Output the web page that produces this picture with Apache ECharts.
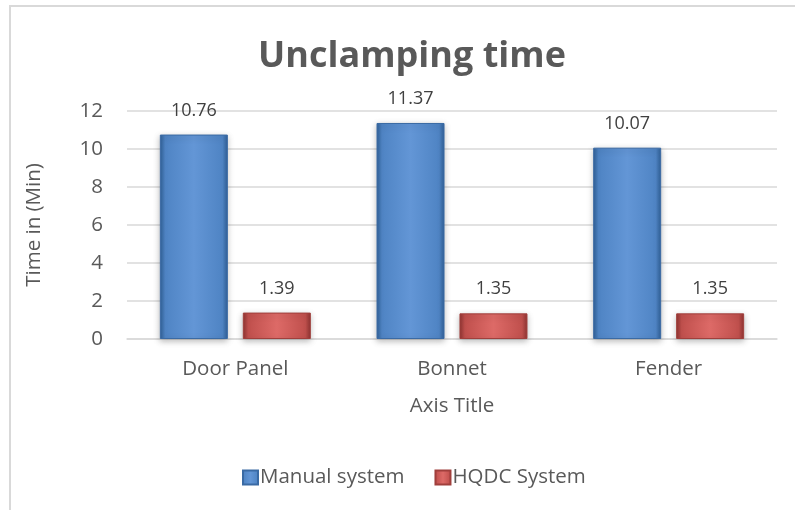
<!DOCTYPE html>
<html><head><meta charset="utf-8">
<script src="https://cdn.jsdelivr.net/npm/echarts@6/dist/echarts.min.js"></script>
<style>html,body{margin:0;padding:0;background:#fff}#c{width:795px;height:510px}</style>
</head><body><div id="c"></div>
<script>
const categories = ['Door Panel', 'Bonnet', 'Fender'];
const manual = [10.76, 11.37, 10.07];
const hqdc = [1.39, 1.35, 1.35];
const yTicks = [0, 2, 4, 6, 8, 10, 12];

const FONT = '"Open Sans", "Liberation Sans", sans-serif';
function grad(light, mid, dark) {
  return new echarts.graphic.LinearGradient(0, 0, 1, 0, [
    {offset: 0, color: dark}, {offset: 0.08, color: mid},
    {offset: 0.5, color: light}, {offset: 0.92, color: mid}, {offset: 1, color: dark}
  ]);
}
const chart = echarts.init(document.getElementById('c'));
chart.setOption({
  animation: false,
  backgroundColor: '#fff',
  title: {
    text: 'Unclamping time', left: 407, top: 34, textAlign: 'center',
    textStyle: {fontFamily: FONT, fontSize: 36, fontWeight: 'bold', color: '#595959'}
  },
  graphic: [{type: 'rect', shape: {x: 10, y: 6, width: 820, height: 520},
    style: {fill: 'none', stroke: '#d9d9d9', lineWidth: 2}, silent: true}],
  legend: {
    top: 462, left: 237, itemWidth: 15, itemHeight: 14, itemGap: 30,
    icon: 'rect',
    textStyle: {fontFamily: FONT, fontSize: 20.5, color: '#595959', padding: [0,0,0,-3]},
    data: ['Manual system', 'HQDC System']
  },
  grid: {left: 127, right: 18, top: 111, bottom: 171},
  xAxis: {
    type: 'category', data: categories,
    name: 'Axis Title', nameLocation: 'middle', nameGap: 57,
    nameTextStyle: {fontFamily: FONT, fontSize: 20.5, color: '#595959'},
    axisLine: {lineStyle: {color: '#d9d9d9', width: 1.5}},
    axisTick: {show: false},
    axisLabel: {fontFamily: FONT, fontSize: 20.5, color: '#595959', margin: 20}
  },
  yAxis: {
    type: 'value', min: 0, max: 12, interval: 2,
    name: 'Time in (Min)', nameLocation: 'middle', nameGap: 82, nameRotate: 90,
    nameTextStyle: {fontFamily: FONT, fontSize: 20.5, color: '#595959'},
    axisLine: {show: false}, axisTick: {show: false},
    axisLabel: {fontFamily: FONT, fontSize: 20.5, color: '#595959', margin: 24,
      formatter: v => yTicks.includes(v) ? String(v) : ''},
    splitLine: {lineStyle: {color: '#d9d9d9', width: 1.5}}
  },
  series: [
    {name: 'Manual system', type: 'bar', data: manual, barWidth: 68, barGap: '22%',
     itemStyle: {color: grad('#6396d6', '#4f84c4', '#2f5f96'), borderColor: '#3a6aa4', borderWidth: 1,
       shadowBlur: 6, shadowColor: 'rgba(0,0,0,0.25)', shadowOffsetY: 2},
     label: {show: true, position: 'top', distance: 15, fontFamily: FONT, fontSize: 18, color: '#404040'}},
    {name: 'HQDC System', type: 'bar', data: hqdc, barWidth: 68,
     itemStyle: {color: grad('#dd6a67', '#c0504d', '#8e3331'), borderColor: '#a03f3c', borderWidth: 1,
       shadowBlur: 6, shadowColor: 'rgba(0,0,0,0.25)', shadowOffsetY: 2},
     label: {show: true, position: 'top', distance: 15, fontFamily: FONT, fontSize: 18, color: '#404040'}}
  ]
});
</script></body></html>
